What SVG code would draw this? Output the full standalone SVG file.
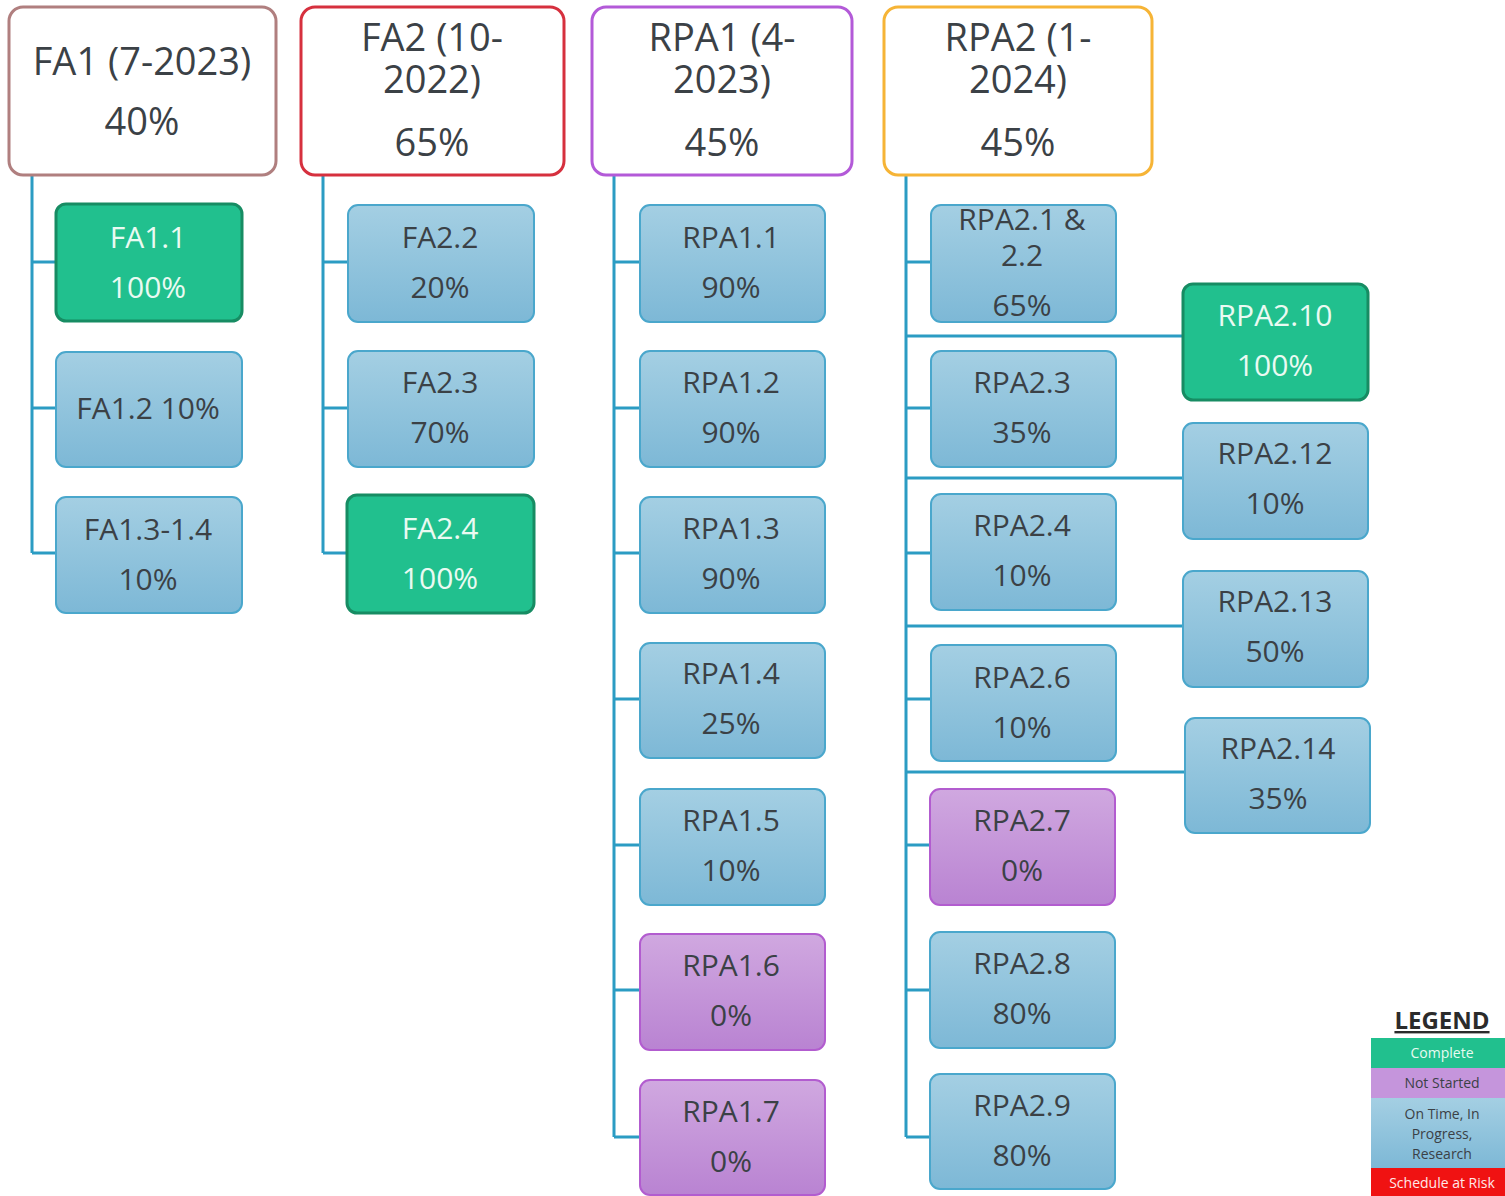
<svg xmlns="http://www.w3.org/2000/svg" width="1505" height="1196" viewBox="0 0 1505 1196">
<defs>
<linearGradient id="gBlue" x1="0" y1="0" x2="0" y2="1"><stop offset="0" stop-color="#a4cfe3"/><stop offset="1" stop-color="#7db8d6"/></linearGradient>
<linearGradient id="gPurple" x1="0" y1="0" x2="0" y2="1"><stop offset="0" stop-color="#d0a8e0"/><stop offset="1" stop-color="#b983d2"/></linearGradient>
<style>
text{font-family:"Open Sans","Noto Sans",sans-serif;text-anchor:middle;fill:#3b4146}
.top{fill:#fff;stroke-width:3}
.tt{font-size:38px}
.blue{fill:url(#gBlue);stroke:#4aa7cc;stroke-width:2}
.purple{fill:url(#gPurple);stroke:#b25ccf;stroke-width:2}
.green{fill:#21c08e;stroke:#178c63;stroke-width:3}
.ct{font-size:30px}
.gt{fill:#eafaf2}
.conn{fill:none;stroke:#2b9cc3;stroke-width:3}
.lg{font-size:14px}
</style>
</defs>
<g id="connectors">
<path class="conn" d="M32 175V553M32 262H56M32 408H56M32 553H56"/>
<path class="conn" d="M323 175V553M323 262H348M323 408H348M323 553H348"/>
<path class="conn" d="M614 175V1137M614 262H640M614 408H640M614 553H640M614 699H640M614 845H640M614 990H640M614 1137H640"/>
<path class="conn" d="M906 175V1137M906 262H931M906 408H931M906 553H931M906 699H931M906 845H931M906 990H931M906 1137H931M906 336H1183M906 478H1183M906 626H1183M906 772H1185"/>
</g>
<g id="FA1"><rect class="top" x="9" y="7" width="267" height="168" rx="14" stroke="#b07f7f"/><text class="tt" x="142" y="75">FA1 (7-2023)</text><text class="tt" x="142" y="135">40%</text></g>
<g id="FA2"><rect class="top" x="301" y="7" width="263" height="168" rx="14" stroke="#d6303e"/><text class="tt" x="432" y="51">FA2 (10-</text><text class="tt" x="432" y="93">2022)</text><text class="tt" x="432" y="156">65%</text></g>
<g id="RPA1"><rect class="top" x="592" y="7" width="260" height="168" rx="14" stroke="#b35ad8"/><text class="tt" x="722" y="51">RPA1 (4-</text><text class="tt" x="722" y="93">2023)</text><text class="tt" x="722" y="156">45%</text></g>
<g id="RPA2"><rect class="top" x="884" y="7" width="268" height="168" rx="14" stroke="#f6b436"/><text class="tt" x="1018" y="51">RPA2 (1-</text><text class="tt" x="1018" y="93">2024)</text><text class="tt" x="1018" y="156">45%</text></g>

<g id="FA1.1"><rect class="green" x="56" y="204" width="186" height="117" rx="10"/><text class="ct gt" x="148" y="248">FA1.1</text><text class="ct gt" x="148" y="298">100%</text></g>
<g id="FA1.2"><rect class="blue" x="56" y="352" width="186" height="115" rx="10"/><text class="ct" x="148" y="419">FA1.2 10%</text></g>
<g id="FA1.3-1.4"><rect class="blue" x="56" y="497" width="186" height="116" rx="10"/><text class="ct" x="148" y="540">FA1.3-1.4</text><text class="ct" x="148" y="590">10%</text></g>

<g id="FA2.2"><rect class="blue" x="348" y="205" width="186" height="117" rx="10"/><text class="ct" x="440" y="248">FA2.2</text><text class="ct" x="440" y="298">20%</text></g>
<g id="FA2.3"><rect class="blue" x="348" y="351" width="186" height="116" rx="10"/><text class="ct" x="440" y="393">FA2.3</text><text class="ct" x="440" y="443">70%</text></g>
<g id="FA2.4"><rect class="green" x="347" y="495" width="187" height="118" rx="10"/><text class="ct gt" x="440" y="539">FA2.4</text><text class="ct gt" x="440" y="589">100%</text></g>

<g id="RPA1.1"><rect class="blue" x="640" y="205" width="185" height="117" rx="10"/><text class="ct" x="731" y="248">RPA1.1</text><text class="ct" x="731" y="298">90%</text></g>
<g id="RPA1.2"><rect class="blue" x="640" y="351" width="185" height="116" rx="10"/><text class="ct" x="731" y="393">RPA1.2</text><text class="ct" x="731" y="443">90%</text></g>
<g id="RPA1.3"><rect class="blue" x="640" y="497" width="185" height="116" rx="10"/><text class="ct" x="731" y="539">RPA1.3</text><text class="ct" x="731" y="589">90%</text></g>
<g id="RPA1.4"><rect class="blue" x="640" y="643" width="185" height="115" rx="10"/><text class="ct" x="731" y="684">RPA1.4</text><text class="ct" x="731" y="734">25%</text></g>
<g id="RPA1.5"><rect class="blue" x="640" y="789" width="185" height="116" rx="10"/><text class="ct" x="731" y="831">RPA1.5</text><text class="ct" x="731" y="881">10%</text></g>
<g id="RPA1.6"><rect class="purple" x="640" y="934" width="185" height="116" rx="10"/><text class="ct" x="731" y="976">RPA1.6</text><text class="ct" x="731" y="1026">0%</text></g>
<g id="RPA1.7"><rect class="purple" x="640" y="1080" width="185" height="115" rx="10"/><text class="ct" x="731" y="1122">RPA1.7</text><text class="ct" x="731" y="1172">0%</text></g>

<g id="RPA2.1-2.2"><rect class="blue" x="931" y="205" width="185" height="117" rx="10"/><text class="ct" x="1022" y="230">RPA2.1 &amp;</text><text class="ct" x="1022" y="266">2.2</text><text class="ct" x="1022" y="316">65%</text></g>
<g id="RPA2.3"><rect class="blue" x="931" y="351" width="185" height="116" rx="10"/><text class="ct" x="1022" y="393">RPA2.3</text><text class="ct" x="1022" y="443">35%</text></g>
<g id="RPA2.4"><rect class="blue" x="931" y="494" width="185" height="116" rx="10"/><text class="ct" x="1022" y="536">RPA2.4</text><text class="ct" x="1022" y="586">10%</text></g>
<g id="RPA2.6"><rect class="blue" x="931" y="645" width="185" height="116" rx="10"/><text class="ct" x="1022" y="688">RPA2.6</text><text class="ct" x="1022" y="738">10%</text></g>
<g id="RPA2.7"><rect class="purple" x="930" y="789" width="185" height="116" rx="10"/><text class="ct" x="1022" y="831">RPA2.7</text><text class="ct" x="1022" y="881">0%</text></g>
<g id="RPA2.8"><rect class="blue" x="930" y="932" width="185" height="116" rx="10"/><text class="ct" x="1022" y="974">RPA2.8</text><text class="ct" x="1022" y="1024">80%</text></g>
<g id="RPA2.9"><rect class="blue" x="930" y="1074" width="185" height="115" rx="10"/><text class="ct" x="1022" y="1116">RPA2.9</text><text class="ct" x="1022" y="1166">80%</text></g>

<g id="RPA2.10"><rect class="green" x="1183" y="284" width="185" height="116" rx="10"/><text class="ct gt" x="1275" y="326">RPA2.10</text><text class="ct gt" x="1275" y="376">100%</text></g>
<g id="RPA2.12"><rect class="blue" x="1183" y="423" width="185" height="116" rx="10"/><text class="ct" x="1275" y="464">RPA2.12</text><text class="ct" x="1275" y="514">10%</text></g>
<g id="RPA2.13"><rect class="blue" x="1183" y="571" width="185" height="116" rx="10"/><text class="ct" x="1275" y="612">RPA2.13</text><text class="ct" x="1275" y="662">50%</text></g>
<g id="RPA2.14"><rect class="blue" x="1185" y="718" width="185" height="115" rx="10"/><text class="ct" x="1278" y="759">RPA2.14</text><text class="ct" x="1278" y="809">35%</text></g>

<g id="legend">
<text x="1442" y="1029" style="font-size:24px;font-weight:bold;fill:#2b2b2b;text-decoration:underline">LEGEND</text>
<rect x="1371" y="1038" width="134" height="30" fill="#21c08e"/>
<rect x="1371" y="1068" width="134" height="30" fill="#c595dc"/>
<rect x="1371" y="1098" width="134" height="70" fill="url(#gBlue)"/>
<rect x="1371" y="1168" width="134" height="28" fill="#f01212"/>
<text class="lg" x="1442" y="1058" style="fill:#e8fbf1">Complete</text>
<text class="lg" x="1442" y="1088">Not Started</text>
<text class="lg" x="1442" y="1119">On Time, In</text>
<text class="lg" x="1442" y="1139">Progress,</text>
<text class="lg" x="1442" y="1159">Research</text>
<text class="lg" x="1442" y="1188" style="fill:#ffe8e8">Schedule at Risk</text>
</g>
</svg>
